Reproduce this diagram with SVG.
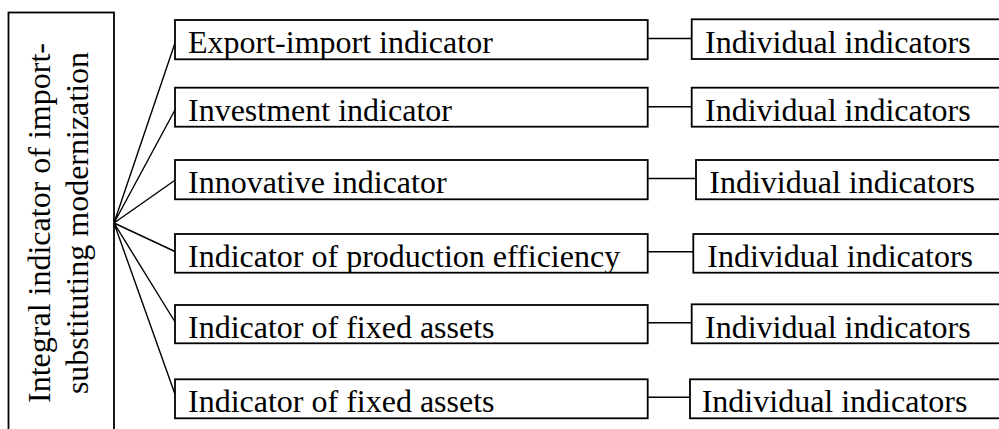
<svg xmlns="http://www.w3.org/2000/svg" width="999" height="429" viewBox="0 0 999 429">
<style>
.box{fill:#fff;stroke:#000;stroke-width:1.8}
.t{font-family:'Liberation Serif','Tinos','DejaVu Serif',serif;font-size:32px;fill:#000}
.c{fill:none;stroke:#000;stroke-width:1.4}
</style>
<defs>
<clipPath id="k1"><rect x="175" y="20" width="473" height="39.5"/></clipPath>
<clipPath id="k2"><rect x="175" y="87.7" width="473" height="39"/></clipPath>
<clipPath id="k3"><rect x="175" y="160" width="473" height="39.3"/></clipPath>
<clipPath id="k4"><rect x="175" y="234" width="473" height="38.7"/></clipPath>
<clipPath id="k5"><rect x="175" y="305" width="473" height="38.3"/></clipPath>
<clipPath id="k6"><rect x="175" y="379.3" width="473" height="39"/></clipPath>
</defs>
<rect width="999" height="429" fill="#fff"/>
<g id="connectors">
<path class="c" d="M114 223 L176 40 M114 223 L176 108 M114 223 L176 179.5 M114 223 L176 252 M114 223 L176 323.5 M114 223 L176 397"/>
<path class="c" d="M647.7 38.5 H691.7 M647.7 106.7 H691.7 M647.7 178.5 H696 M647.7 251.7 H693.3 M647.7 322.7 H691.7 M647.7 397.3 H690"/>
</g>
<g id="root">
<rect class="box" x="8.5" y="12.5" width="105.5" height="430"/>
<text class="t" font-family="Liberation Serif" transform="translate(50,223) rotate(-90)" text-anchor="middle">Integral indicator of import-</text>
<text class="t" font-family="Liberation Serif" transform="translate(87.5,223) rotate(-90)" text-anchor="middle">substituting modernization</text>
</g>
<g id="m1"><rect class="box" x="175" y="20" width="472.7" height="39.3"/><text class="t" x="188" y="53" clip-path="url(#k1)">Export-import indicator</text></g>
<g id="m2"><rect class="box" x="175" y="87.7" width="472.7" height="39"/><text class="t" x="188" y="120.7" clip-path="url(#k2)">Investment indicator</text></g>
<g id="m3"><rect class="box" x="175" y="160" width="472.7" height="39.3"/><text class="t" x="188" y="193.3" clip-path="url(#k3)">Innovative indicator</text></g>
<g id="m4"><rect class="box" x="175" y="234" width="472.7" height="38.7"/><text class="t" x="188" y="266.7" clip-path="url(#k4)">Indicator of production efficiency</text></g>
<g id="m5"><rect class="box" x="175" y="305" width="472.7" height="38.3"/><text class="t" x="188" y="337.5" clip-path="url(#k5)">Indicator of fixed assets</text></g>
<g id="m6"><rect class="box" x="175" y="379.3" width="472.7" height="39"/><text class="t" x="188" y="412.3" clip-path="url(#k6)">Indicator of fixed assets</text></g>
<g id="r1"><rect class="box" x="691.7" y="19.3" width="320" height="39.7"/><text class="t" x="705" y="53">Individual indicators</text></g>
<g id="r2"><rect class="box" x="691.7" y="87.7" width="320" height="39"/><text class="t" x="705" y="120.7">Individual indicators</text></g>
<g id="r3"><rect class="box" x="696" y="160" width="320" height="39.3"/><text class="t" x="709.3" y="193.3">Individual indicators</text></g>
<g id="r4"><rect class="box" x="693.3" y="234" width="320" height="38.7"/><text class="t" x="707.3" y="266.7">Individual indicators</text></g>
<g id="r5"><rect class="box" x="691.7" y="304.3" width="320" height="39"/><text class="t" x="705" y="337.5">Individual indicators</text></g>
<g id="r6"><rect class="box" x="690" y="379.3" width="320" height="39"/><text class="t" x="701.7" y="412.3">Individual indicators</text></g>
</svg>
